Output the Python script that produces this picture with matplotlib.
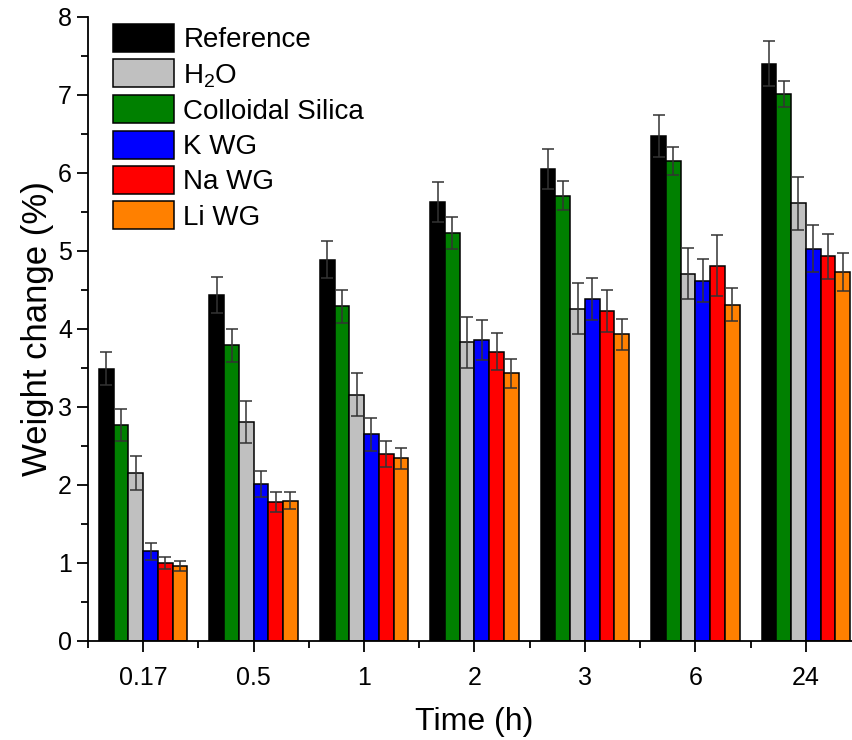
import numpy as np
import matplotlib
matplotlib.use('Agg')
import matplotlib.pyplot as plt

plt.rcParams['font.family'] = ['Liberation Sans', 'DejaVu Sans']
plt.rcParams['mathtext.fontset'] = 'custom'
plt.rcParams['mathtext.rm'] = 'Liberation Sans'

# data (weight change %, error = std)
times = ['0.17', '0.5', '1', '2', '3', '6', '24']

reference = [3.49, 4.44, 4.89, 5.63, 6.05, 6.47, 7.40]
reference_err = [0.21, 0.23, 0.24, 0.26, 0.26, 0.27, 0.29]
silica = [2.77, 3.79, 4.29, 5.23, 5.71, 6.15, 7.01]
silica_err = [0.20, 0.21, 0.21, 0.20, 0.19, 0.18, 0.17]
water = [2.15, 2.81, 3.16, 3.83, 4.26, 4.71, 5.61]
water_err = [0.22, 0.27, 0.28, 0.33, 0.33, 0.33, 0.34]
k_wg = [1.15, 2.01, 2.65, 3.86, 4.38, 4.62, 5.03]
k_wg_err = [0.11, 0.17, 0.21, 0.26, 0.27, 0.28, 0.30]
na_wg = [1.00, 1.78, 2.40, 3.71, 4.23, 4.81, 4.93]
na_wg_err = [0.08, 0.13, 0.17, 0.24, 0.27, 0.39, 0.29]
li_wg = [0.96, 1.80, 2.34, 3.43, 3.93, 4.31, 4.73]
li_wg_err = [0.06, 0.11, 0.14, 0.18, 0.20, 0.21, 0.24]

# bar order inside each group
series = [
    ('Reference', reference, reference_err, '#000000'),
    ('Colloidal Silica', silica, silica_err, '#008000'),
    ('H$_2$O', water, water_err, '#C0C0C0'),
    ('K WG', k_wg, k_wg_err, '#0000FF'),
    ('Na WG', na_wg, na_wg_err, '#FF0000'),
    ('Li WG', li_wg, li_wg_err, '#FF8000'),
]
legend_order = ['Reference', 'H$_2$O', 'Colloidal Silica', 'K WG', 'Na WG', 'Li WG']

W, H = 853, 740
fig = plt.figure(figsize=(W / 100, H / 100), dpi=100)
ax = fig.add_axes([88 / W, (H - 641) / H, (861 - 88) / W, 624 / H])

x = np.arange(len(times))
width = 0.8 / len(series)
handles = {}
for i, (name, vals, errs, color) in enumerate(series):
    pos = x + (i - (len(series) - 1) / 2) * width
    bars = ax.bar(pos, vals, width, color=color, edgecolor='black', linewidth=1.1,
                  yerr=errs, ecolor='#333333', capsize=4.6,
                  error_kw={'elinewidth': 1.1, 'capthick': 1.1}, zorder=2)
    handles[name] = bars

ax.set_xlim(-0.5, 6.5)
ax.set_ylim(0, 8)
ax.set_xticks(x)
ax.set_xticklabels(times)
ax.set_xticks(np.arange(-0.5, 7, 1), minor=True)
ax.set_yticks(np.arange(0, 9, 1))
ax.set_yticks(np.arange(0.5, 8, 1), minor=True)

for s in ['top', 'right']:
    ax.spines[s].set_visible(False)
for s in ['left', 'bottom']:
    ax.spines[s].set_linewidth(1.3)

ax.tick_params(axis='both', which='major', direction='out', length=8, width=1.3, labelsize=18)
ax.tick_params(axis='both', which='minor', direction='out', length=5, width=1.3)
ax.tick_params(axis='x', which='major', pad=10)

ax.set_xlabel('Time (h)', fontsize=23, labelpad=12)
ax.set_ylabel('Weight change (%)', fontsize=25, labelpad=3)

leg = fig.legend([handles[n] for n in legend_order], legend_order,
                 loc='upper left', bbox_to_anchor=(113 / W, 1 - 24 / H),
                 bbox_transform=fig.transFigure, frameon=False, fontsize=20,
                 handlelength=2.2, handleheight=1.18, handletextpad=0.33,
                 labelspacing=0.21, borderpad=0, borderaxespad=0)

fig.savefig('out.png', dpi=100)
